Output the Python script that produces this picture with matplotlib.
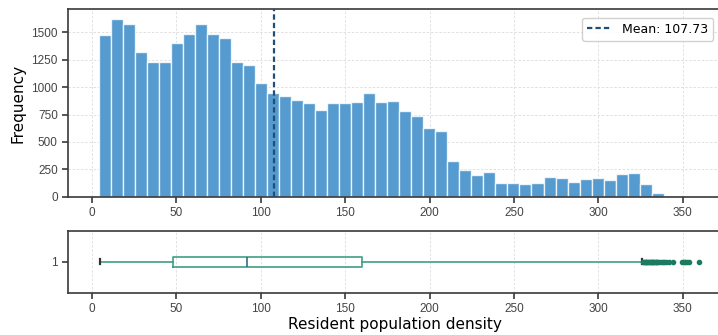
import matplotlib
matplotlib.use("Agg")
import matplotlib.pyplot as plt
import numpy as np

# histogram: 50 bins over the data range
data_min = 4.2
data_max = 360.0
counts = [1475, 1618, 1576, 1317, 1226, 1229, 1400, 1484, 1575, 1482,
          1451, 1226, 1204, 1037, 949, 916, 885, 855, 794, 852,
          855, 864, 943, 861, 873, 782, 733, 624, 600, 326,
          246, 201, 222, 122, 122, 119, 128, 182, 168, 137,
          159, 168, 150, 210, 213, 119, 34, 4, 2, 1]
mean_val = 107.73

# box plot summary
q1 = 48.0
median = 92.0
q3 = 160.0
whisker_low = 4.5
whisker_high = 326.0
fliers = [326.5, 327, 327.5, 328, 328.5, 329, 329.5, 330, 330.5, 331, 331.5,
          332, 332.5, 333, 333.5, 334, 334.5, 335, 336, 337, 338,
          339, 340, 342, 344, 349.5, 350.5, 351.5, 352.5, 353.5, 359.5]

bar_color = "#559bcf"
mean_color = "#1f4e79"
box_color = "#3e9e86"
flier_color = "#1b7a62"

plt.rcParams["font.family"] = ["DejaVu Sans"]

fig = plt.figure(figsize=(7.18, 3.35), dpi=100)
ax1 = fig.add_axes([0.095, 0.413, 0.91, 0.559])
ax2 = fig.add_axes([0.095, 0.126, 0.91, 0.185], sharex=ax1)

edges = np.linspace(data_min, data_max, len(counts) + 1)
centers = (edges[:-1] + edges[1:]) / 2
ax1.hist(centers, bins=edges, weights=counts, color=bar_color,
         edgecolor=(1, 1, 1, 0.8), linewidth=1.0, zorder=2)
ax1.axvline(mean_val, color=mean_color, linestyle="--", dashes=(2.4, 1.4),
            linewidth=1.6, label=f"Mean: {mean_val:.2f}", zorder=3)
ax1.set_ylabel("Frequency", fontsize=11)
ax1.set_ylim(0, 1710)
ax1.set_yticks(range(0, 1501, 250))
ax1.legend(loc="upper right", fontsize=9, framealpha=0.9,
           bbox_to_anchor=(0.997, 0.99))
ax1.tick_params(labelbottom=True)

stats = [{"med": median, "q1": q1, "q3": q3, "whislo": whisker_low,
          "whishi": whisker_high, "fliers": fliers, "label": "1"}]
ax2.bxp(stats, vert=False, widths=0.16, showfliers=True,
        boxprops=dict(color=box_color, linewidth=1.2),
        whiskerprops=dict(color=box_color, linewidth=1.2),
        capprops=dict(color="#333333", linewidth=1.6),
        medianprops=dict(color="#2f6f8a", linewidth=1.2),
        flierprops=dict(marker="o", markersize=3, markerfacecolor=flier_color,
                        markeredgecolor=flier_color))
ax2.set_ylim(0.5, 1.5)
ax2.set_xlabel("Resident population density", fontsize=11, labelpad=1)

ax1.set_xlim(-14.1, 373)
ax1.set_xticks(range(0, 351, 50))

for ax in (ax1, ax2):
    ax.grid(True, linestyle="--", dashes=(3, 2), color="#dcdcdc",
            linewidth=0.6, zorder=0)
    ax.set_axisbelow(True)
    for s in ax.spines.values():
        s.set_color("#3a3a3a")
        s.set_linewidth(1.2)
    ax.tick_params(colors="#3a3a3a", labelcolor="#444444", length=4, width=1.2)
    for lbl in ax.get_xticklabels() + ax.get_yticklabels():
        lbl.set_family(["Liberation Sans", "DejaVu Sans"])
        lbl.set_fontsize(8.5)
ax2.grid(False, axis="y")

fig.savefig("out.png", dpi=100)
